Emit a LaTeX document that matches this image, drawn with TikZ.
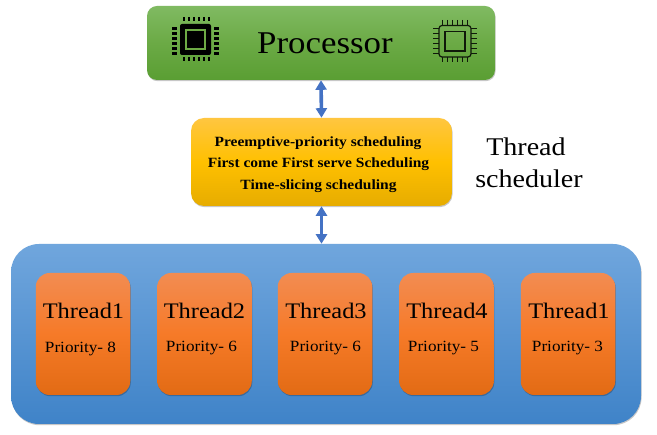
\documentclass[tikz,border=0pt]{standalone}
\usepackage{fontspec}
\setmainfont[FakeStretch=1.1]{Liberation Serif}
\usetikzlibrary{shadows,arrows.meta}
\definecolor{arrowblue}{HTML}{4472C4}
\definecolor{chipgreen}{HTML}{6DAA45}
\tikzset{
  x=1pt,y=-1pt,
  softshadow/.style={general shadow={fill=black,opacity=.22,shadow xshift=.6pt,shadow yshift=-1.2pt}},
  panel/.style={inner sep=0pt,outer sep=0pt,softshadow},
  procbox/.style={panel,rounded corners=10pt,minimum width=348pt,minimum height=74pt,top color=procT,bottom color=procB,middle color=procM},
  schedbox/.style={panel,rounded corners=13pt,minimum width=261pt,minimum height=88pt,top color=schedT,bottom color=schedB,middle color=schedM},
  poolbox/.style={panel,rounded corners=28pt,minimum width=630pt,minimum height=180pt,top color=poolT,bottom color=poolB},
  threadbox/.style={panel,rounded corners=14pt,minimum width=94.5pt,minimum height=122pt,top color=thT,bottom color=thB,middle color=thM},
  both/.style={{Triangle[length=9.5pt,width=11pt]}-{Triangle[length=9.5pt,width=11pt]},line width=3.6pt,draw=arrowblue,shorten <=.3pt,shorten >=.3pt},
  threadname/.style={inner sep=0pt,font=\fontsize{22.2}{24}\selectfont},
  prio/.style={inner sep=0pt,font=\fontsize{15.6}{17}\selectfont},
  bigtext/.style={inner sep=0pt,font=\fontsize{25.5}{28}\selectfont},
  proctextstyle/.style={inner sep=0pt,font=\fontsize{31.7}{34}\selectfont},
  schedline/.style={inner sep=0pt,font=\fontsize{14.1}{16}\selectfont\bfseries},
  pin/.style={line width=1.2pt}
}
\definecolor{procT}{HTML}{80BA62}\definecolor{procM}{HTML}{6BAA45}\definecolor{procB}{HTML}{5A9E33}
\definecolor{schedT}{HTML}{FFC640}\definecolor{schedM}{HTML}{FFC000}\definecolor{schedB}{HTML}{E6AC00}
\definecolor{poolT}{HTML}{70A6DD}\definecolor{poolB}{HTML}{3F83C8}
\definecolor{thT}{HTML}{F28C52}\definecolor{thM}{HTML}{F67A28}\definecolor{thB}{HTML}{E26B14}
\begin{document}
\begin{tikzpicture}
\useasboundingbox (0,0) rectangle (657,435);
\fill[white] (0,0) rectangle (657,435);
\node[procbox] (proc) at (321,43) {};
\node[schedbox] (sched) at (321.5,162) {};
\node[poolbox] (pool) at (326,334) {};
\foreach \n/\cx/\lab/\pr/\tx/\px in {a/83/Thread1/Priority- 8/83.5/80.5,
  b/204.5/Thread2/Priority- 6/204.5/201.5,
  c/325/Thread3/Priority- 6/326/325.5,
  d/446.5/Thread4/Priority- 5/447/443.5,
  e/568/Thread1/Priority- 3/569/567.5}{
  \node[threadbox] (th\n) at (\cx,334) {};
  \node[threadname] (name\n) at (\tx,310.5) {\lab};
  \node[prio] (prio\n) at (\px,348.5) {\pr};
}
\draw[both] (proc.south) -- (sched.north);
\draw[both] (sched.south) -- (sched.south |- pool.north);
\node[proctextstyle] (proctext) at (325,43) {Processor};
\node[bigtext] (t1) at (526,147) {Thread};
\node[bigtext] (t2) at (529,179) {scheduler};
\node[schedline] (s1) at (318,143.5) {Preemptive-priority scheduling};
\node[schedline] (s2) at (318.5,164.5) {First come First serve Scheduling};
\node[schedline] (s3) at (318.5,186) {Time-slicing scheduling};
% left chip
\fill[black,rounded corners=2pt] (180,24) rectangle (211,55);
\draw[chipgreen,line width=1.6pt] (186,30) rectangle (205,49);
\foreach \k in {0,...,5}{
  \fill (182.5+\k*5,17.5) rectangle +(2.4,4);
  \fill (182.5+\k*5,57.5) rectangle +(2.4,4);
  \fill (172,27.5+\k*5) rectangle +(5,2.4);
  \fill (214,27.5+\k*5) rectangle +(5,2.4);
}
% right chip
\draw[black!85!chipgreen,line width=1.2pt,rounded corners=3pt] (439,25.5) rectangle (471,57);
\draw[black!85!chipgreen,line width=1.2pt] (445,31.5) rectangle (465,51);
\foreach \k in {0,...,5}{
  \draw[pin,black!85!chipgreen] (442.5+\k*5,20) -- +(0,5.5);
  \draw[pin,black!85!chipgreen] (442.5+\k*5,57) -- +(0,5.5);
  \draw[pin,black!85!chipgreen] (433,28.5+\k*5) -- +(6,0);
  \draw[pin,black!85!chipgreen] (471,28.5+\k*5) -- +(6,0);
}
\end{tikzpicture}
\end{document}
